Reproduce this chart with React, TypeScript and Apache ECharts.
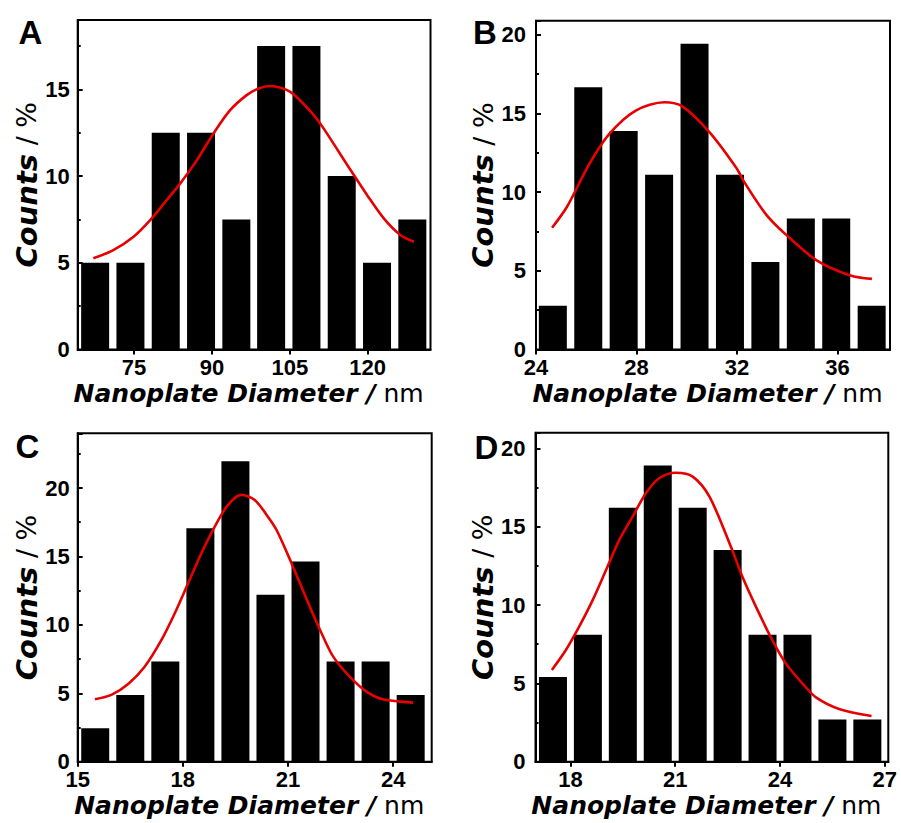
import React, { useEffect, useRef } from 'react';
import * as echarts from 'echarts';

// ---------- DATA ----------
const panelLetters = ['A', 'B', 'C', 'D'];

// Panel A
const centersA = [67.5, 74.3, 81.1, 87.9, 94.7, 101.4, 108.2, 115.0, 121.8, 128.6];
const countsA = [5, 5, 12.5, 12.5, 7.5, 17.5, 17.5, 10, 5, 7.5];
const fitXA = [67.15, 71.0, 74.9, 78.1, 81.3, 83.9, 87.1, 90.3, 93.5, 96.7, 99.0, 101.2, 105.1, 109.6, 111.5, 116.7, 119.9, 123.1, 126.3, 128.9];
const fitYA = [5.26, 5.73, 6.5, 7.46, 8.62, 9.58, 10.92, 12.46, 13.8, 14.67, 15.05, 15.19, 14.86, 13.52, 12.75, 10.35, 8.9, 7.56, 6.6, 6.21];
const xTicksA = [75, 90, 105, 120];

// Panel B
const centersB = [24.67, 26.08, 27.49, 28.9, 30.31, 31.72, 33.13, 34.54, 35.95, 37.36];
const countsB = [2.78, 16.67, 13.89, 11.11, 19.44, 11.11, 5.56, 8.33, 8.33, 2.78];
const fitXB = [24.64, 25.24, 26.11, 26.91, 27.97, 29.11, 29.84, 30.91, 31.97, 32.31, 33.17, 33.97, 35.17, 36.51, 37.37];
const fitYB = [7.74, 9.09, 11.76, 13.69, 15.19, 15.72, 15.44, 13.8, 11.55, 10.59, 8.56, 7.27, 5.67, 4.71, 4.49];
const xTicksB = [24, 28, 32, 36];

// Panel C
const centersC = [15.5, 16.5, 17.5, 18.5, 19.5, 20.5, 21.5, 22.5, 23.5, 24.5];
const countsC = [2.44, 4.88, 7.32, 17.07, 21.95, 12.2, 14.63, 7.32, 7.32, 4.88];
const fitXC = [15.49, 15.96, 16.44, 16.91, 17.39, 17.77, 18.15, 18.53, 18.91, 19.29, 19.67, 20.05, 20.4, 20.67, 21.1, 21.62, 22.0, 22.29, 22.76, 23.24, 23.71, 24.57];
const fitYC = [4.56, 4.88, 5.68, 6.94, 8.9, 10.85, 13.04, 15.23, 17.18, 18.77, 19.5, 19.13, 18.0, 16.95, 14.51, 11.34, 9.15, 7.68, 6.22, 5.12, 4.56, 4.32];
const xTicksC = [15, 18, 21, 24];

// Panel D
const centersD = [17.5, 18.5, 19.5, 20.5, 21.5, 22.5, 23.5, 24.5, 25.5, 26.5];
const countsD = [5.41, 8.11, 16.22, 18.92, 16.22, 13.51, 8.11, 8.11, 2.7, 2.7];
const fitXD = [17.47, 17.87, 18.25, 18.64, 19.02, 19.4, 19.78, 20.16, 20.54, 21.02, 21.5, 21.98, 22.6, 22.93, 23.32, 23.79, 24.18, 24.66, 25.04, 25.71, 26.62];
const fitYD = [5.86, 7.13, 8.62, 10.33, 12.24, 14.16, 15.65, 17.14, 18.1, 18.45, 18.2, 16.92, 13.69, 11.77, 9.85, 7.72, 6.23, 4.95, 4.09, 3.35, 2.92];
const xTicksD = [18, 21, 24, 27];

const xRanges = [[64.14, 132.1], [24, 38.09], [15, 25.1], [17, 27.1]];
const yMax = [19, 20.9, 24, 21];

const yTitle = 'Counts';
const yUnit = ' / %';
const xTitle = 'Nanoplate Diameter /';
const xUnit = ' nm';

// ---------- LAYOUT / STYLE ----------
const grids = [
  { left: 77.7, top: 20, width: 352.8, height: 329.5 },
  { left: 536, top: 20.7, width: 354, height: 328.8 },
  { left: 77.7, top: 433.3, width: 354, height: 328.4 },
  { left: 535.5, top: 432.8, width: 352.8, height: 328.9 },
];
const letterPos = [
  [30.5, 32],
  [485, 32],
  [27.5, 446.5],
  [486.5, 447],
];
const yLabelMargin = [8, 10, 8, 10];
const yNameGap = [35, 38, 35, 38];

const TICK_FONT = '"Liberation Sans", Arial, sans-serif';
const TITLE_FONT = '"DejaVu Sans", sans-serif';
const RED = '#e60000';

const panels = [
  { centers: centersA, counts: countsA, fitX: fitXA, fitY: fitYA, xTicks: xTicksA },
  { centers: centersB, counts: countsB, fitX: fitXB, fitY: fitYB, xTicks: xTicksB },
  { centers: centersC, counts: countsC, fitX: fitXC, fitY: fitYC, xTicks: xTicksC },
  { centers: centersD, counts: countsD, fitX: fitXD, fitY: fitYD, xTicks: xTicksD },
];

function buildOption() {
  const grid: any[] = [];
  const xAxis: any[] = [];
  const yAxis: any[] = [];
  const series: any[] = [];
  const graphic: any[] = [];

  panels.forEach((p, i) => {
    grid.push({
      ...grids[i],
      show: true,
      borderColor: '#000',
      borderWidth: 2,
      backgroundColor: 'transparent',
      containLabel: false,
    });
    xAxis.push({
      type: 'value',
      gridIndex: i,
      min: xRanges[i][0],
      max: xRanges[i][1],
      axisLine: { show: true, onZero: false, lineStyle: { color: '#000', width: 2 } },
      axisTick: {
        show: true,
        inside: false,
        length: 5,
        lineStyle: { color: '#000', width: 2 },
        customValues: p.xTicks,
      },
      axisLabel: {
        show: true,
        customValues: p.xTicks,
        margin: 8,
        color: '#000',
        fontSize: 22,
        lineHeight: 20,
        fontWeight: 'bold',
        fontFamily: TICK_FONT,
      },
      splitLine: { show: false },
      name: `{b|${xTitle}}{r|${xUnit}}`,
      nameLocation: 'middle',
      nameGap: 32,
      nameTextStyle: {
        rich: {
          b: { fontFamily: TITLE_FONT, fontWeight: 'bold', fontStyle: 'italic', fontSize: 25, lineHeight: 24, color: '#000' },
          r: { fontFamily: TITLE_FONT, fontWeight: 'normal', fontSize: 25, lineHeight: 24, color: '#000', padding: [0, 11, 0, 0] },
        },
      },
    });
    // main y axis (labels + major ticks)
    yAxis.push({
      type: 'value',
      gridIndex: i,
      position: 'left',
      min: 0,
      max: yMax[i],
      interval: 5,
      axisLine: { show: true, lineStyle: { color: '#000', width: 2 } },
      axisTick: { show: true, inside: true, length: 5, lineStyle: { color: '#000', width: 2 } },
      axisLabel: {
        show: true,
        margin: yLabelMargin[i],
        color: '#000',
        fontSize: 22,
        lineHeight: 20,
        fontWeight: 'bold',
        fontFamily: TICK_FONT,
        formatter: (v: number) => (Math.abs(v % 5) < 1e-9 ? String(v) : ''),
      },
      splitLine: { show: false },
      name: `{b|${yTitle}}{r|${yUnit}}`,
      nameLocation: 'middle',
      nameGap: yNameGap[i],
      nameTextStyle: {
        rich: {
          b: { fontFamily: TITLE_FONT, fontWeight: 'bold', fontStyle: 'italic', fontSize: 29, color: '#000' },
          r: { fontFamily: TITLE_FONT, fontWeight: 'normal', fontSize: 27, color: '#000' },
        },
      },
    });
    // minor y ticks
    yAxis.push({
      type: 'value',
      gridIndex: i,
      position: 'left',
      min: 0,
      max: yMax[i],
      interval: 2.5,
      axisLine: { show: false },
      axisTick: { show: true, inside: true, length: 3, lineStyle: { color: '#000', width: 2 } },
      axisLabel: { show: false },
      splitLine: { show: false },
    });

    series.push({
      type: 'bar',
      xAxisIndex: i,
      yAxisIndex: 2 * i,
      data: p.centers.map((c, k) => [c, p.counts[k]]),
      barWidth: 28,
      itemStyle: { color: '#000' },
      z: 2,
    });
    series.push({
      type: 'line',
      xAxisIndex: i,
      yAxisIndex: 2 * i,
      data: p.fitX.map((x, k) => [x, p.fitY[k]]),
      smooth: 0.3,
      showSymbol: false,
      symbol: 'none',
      lineStyle: { color: RED, width: 2.6 },
      z: 5,
    });

    graphic.push({
      type: 'text',
      x: letterPos[i][0],
      y: letterPos[i][1],
      style: {
        text: panelLetters[i],
        fontFamily: TICK_FONT,
        fontWeight: 'bold',
        fontSize: 33,
        fill: '#000',
        textAlign: 'center',
        textVerticalAlign: 'middle',
      },
    });
  });

  return {
    animation: false,
    backgroundColor: '#fff',
    grid,
    xAxis,
    yAxis,
    series,
    graphic,
  };
}

export default function App() {
  const ref = useRef<HTMLDivElement>(null);
  useEffect(() => {
    if (!ref.current) return;
    const chart = echarts.init(ref.current, undefined, { renderer: 'svg' });
    chart.setOption(buildOption() as any);
    return () => chart.dispose();
  }, []);
  return (
    <div
      ref={ref}
      style={{ position: 'absolute', left: 0, top: 0, width: 901, height: 823, background: '#fff' }}
    />
  );
}
